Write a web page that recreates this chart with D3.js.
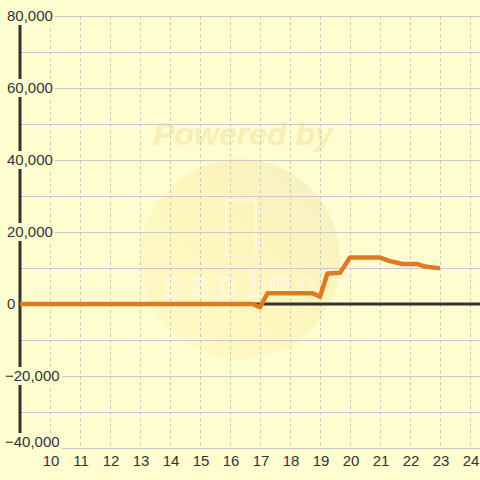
<!DOCTYPE html>
<html><head><meta charset="utf-8">
<script src="https://cdn.jsdelivr.net/npm/d3@7"></script>
<style>html,body{margin:0;padding:0;background:#fdfdcf;}svg{display:block;}</style>
</head><body>
<svg id="chart" width="480" height="480"></svg>
<script>
const hours  = [9, 16.75, 17.0, 17.25, 18.75, 19.0, 19.25, 19.67, 20.0, 21.0, 21.33, 21.75, 22.25, 22.5, 23.0];
const values = [0, 0, -900, 3000, 3000, 2000, 8500, 8700, 12900, 12900, 11900, 11100, 11100, 10400, 9900];
const xTicks = [10,11,12,13,14,15,16,17,18,19,20,21,22,23,24];
const yTicks = [-40000,-20000,0,20000,40000,60000,80000];
const yGrid  = [-40000,-30000,-20000,-10000,0,10000,20000,30000,40000,50000,60000,70000,80000];

const bg = "#fdfdcf";
const svg = d3.select("#chart");
const x = d3.scaleLinear().domain([9, 24 + 1/3]).range([20, 480]);
const y = d3.scaleLinear().domain([-40000, 80000]).range([448, 16]);

svg.append("rect").attr("width",480).attr("height",480).attr("fill",bg);

// watermark
const defs = svg.append("defs");
const lg = defs.append("linearGradient").attr("id","wm").attr("x1","0").attr("y1","1").attr("x2","1").attr("y2","0");
lg.append("stop").attr("offset","0").attr("stop-color","#fffac6");
lg.append("stop").attr("offset","0.6").attr("stop-color","#fcf3b8");
lg.append("stop").attr("offset","1").attr("stop-color","#f3eec6");
svg.append("circle").attr("cx",240).attr("cy",259).attr("r",100).attr("fill","url(#wm)").attr("opacity",0.85);
svg.append("text").attr("x",243).attr("y",145).attr("text-anchor","middle")
  .attr("font-family","Liberation Sans, Arial, sans-serif").attr("font-weight","bold").attr("font-style","italic")
  .attr("font-size",32).attr("fill","#f7eeb4").text("Powered by");
svg.append("rect").attr("x",226).attr("y",200).attr("width",30).attr("height",56).attr("rx",3)
  .attr("fill","none").attr("stroke","#fffbe6").attr("stroke-width",1.5).attr("opacity",0.9);
svg.append("text").attr("x",243).attr("y",296).attr("text-anchor","middle")
  .attr("font-family","DejaVu Sans Mono, monospace").attr("font-size",34).attr("letter-spacing",6)
  .attr("fill","none").attr("stroke","#fffbe6").attr("stroke-width",1.2).text("papimo");

// horizontal grid
svg.append("g").selectAll("line").data(yGrid.filter(d=>d!==0)).join("line")
  .attr("x1",20).attr("x2",480).attr("y1",d=>y(d)).attr("y2",d=>y(d))
  .attr("stroke","#cacaca").attr("stroke-width",1).attr("shape-rendering","crispEdges");
// vertical dashed grid
svg.append("g").selectAll("line").data(xTicks).join("line")
  .attr("x1",d=>x(d)).attr("x2",d=>x(d)).attr("y1",y(80000)).attr("y2",y(-40000)-2)
  .attr("stroke","#c8c8c8").attr("stroke-width",1).attr("stroke-dasharray","3,3").attr("shape-rendering","crispEdges");

// zero line
svg.append("line").attr("x1",20).attr("x2",480).attr("y1",y(0)).attr("y2",y(0))
  .attr("stroke","#333").attr("stroke-width",3);
// y axis line
svg.append("line").attr("x1",20).attr("x2",20).attr("y1",y(80000)).attr("y2",y(-40000))
  .attr("stroke","#333").attr("stroke-width",3);

// data line
svg.append("path").datum(hours.map((h,i)=>[h,values[i]]))
  .attr("fill","none").attr("stroke","#e07a22").attr("stroke-width",4.5)
  .attr("stroke-linejoin","round")
  .attr("d", d3.line().x(d=>x(d[0])).y(d=>y(d[1])));

// y labels with background
const fmt = d3.format(",");
const yl = svg.append("g");
yTicks.forEach(v=>{
  const cy = Math.min(y(v), 442);
  const t = yl.append("text").attr("x", v < 0 ? 5 : 7).attr("y",cy).attr("dy","0.36em").attr("text-anchor","start")
    .attr("font-family","Liberation Sans, Arial, sans-serif").attr("font-size",15).attr("fill","#333").text(fmt(v));
  const bb = t.node().getBBox();
  yl.insert("rect", () => t.node()).attr("x",bb.x-1).attr("y",cy-9).attr("width",bb.width+3).attr("height",18).attr("fill",bg);
});

// x labels
svg.append("g").selectAll("text").data(xTicks).join("text")
  .attr("x",d=>x(d)+1).attr("y",461).attr("dy","0.36em").attr("text-anchor","middle")
  .attr("font-family","Liberation Sans, Arial, sans-serif").attr("font-size",15).attr("fill","#333").text(d=>d);
</script>
</body></html>
